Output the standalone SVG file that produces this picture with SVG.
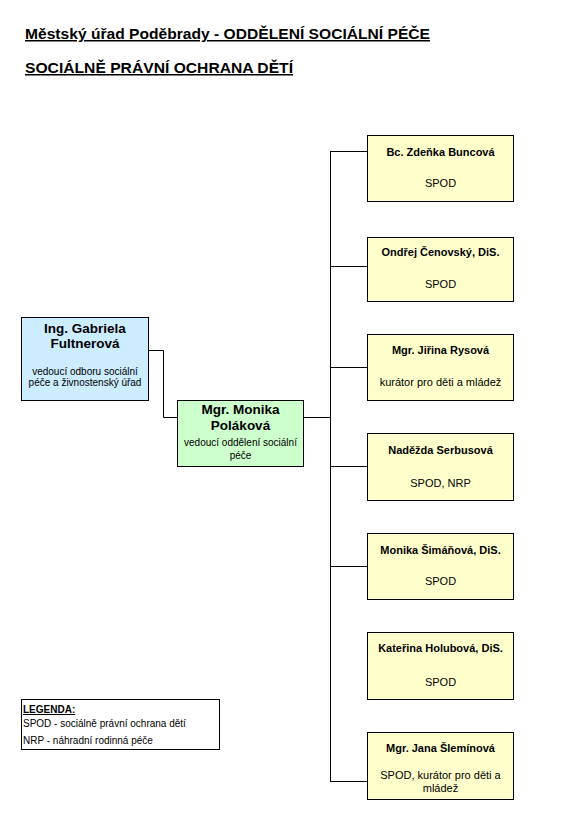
<svg xmlns="http://www.w3.org/2000/svg" width="564" height="832" viewBox="0 0 564 832">
<style>
  text { font-family: "Liberation Sans", Arial, sans-serif; fill: #000; }
  .title { font-size: 15px; font-weight: bold; text-decoration: underline; }
  .nm { font-size: 11px; font-weight: bold; text-anchor: middle; }
  .rl { font-size: 11px; text-anchor: middle; }
  .big { font-size: 13.5px; font-weight: bold; text-anchor: middle; }
  .sm { font-size: 10px; text-anchor: middle; }
  .lg { font-size: 10px; }
  .box { stroke: #000; stroke-width: 1; }
  .yel { fill: #FFFFCC; }
  .blu { fill: #CCECFF; }
  .grn { fill: #CCFFCC; }
  .conn { fill: none; stroke: #000; stroke-width: 1; }
</style>
<rect width="564" height="832" fill="#fff"/>
<g id="titles">
  <text class="title" x="25" y="39" textLength="405" lengthAdjust="spacingAndGlyphs">Městský úřad Poděbrady - ODDĚLENÍ SOCIÁLNÍ PÉČE</text>
  <text class="title" x="25" y="73" textLength="268" lengthAdjust="spacingAndGlyphs">SOCIÁLNĚ PRÁVNÍ OCHRANA DĚTÍ</text>
</g>
<g id="connectors">
  <polyline class="conn" points="148.5,350.5 163.5,350.5 163.5,417.5 177.5,417.5"/>
  <line class="conn" x1="304" y1="417.5" x2="330.5" y2="417.5"/>
  <line class="conn" x1="330.5" y1="151.5" x2="330.5" y2="781.5"/>
  <line class="conn" x1="330" y1="151.5" x2="368" y2="151.5"/>
  <line class="conn" x1="330" y1="266.5" x2="368" y2="266.5"/>
  <line class="conn" x1="330" y1="367.5" x2="368" y2="367.5"/>
  <line class="conn" x1="330" y1="466.5" x2="368" y2="466.5"/>
  <line class="conn" x1="330" y1="566.5" x2="368" y2="566.5"/>
  <line class="conn" x1="330" y1="781.5" x2="368" y2="781.5"/>
</g>
<g id="n-fultnerova">
  <rect class="box blu" x="21.5" y="317.5" width="127" height="83"/>
  <text class="big" x="85" y="333">Ing. Gabriela</text>
  <text class="big" x="85" y="348">Fultnerová</text>
  <text class="sm" x="85" y="375">vedoucí odboru sociální</text>
  <text class="sm" x="85" y="386">péče a živnostenský úřad</text>
</g>
<g id="n-polakova">
  <rect class="box grn" x="177.5" y="400.5" width="126" height="66"/>
  <text class="big" x="240.5" y="414">Mgr. Monika</text>
  <text class="big" x="240.5" y="430">Poláková</text>
  <text class="sm" x="240.5" y="446">vedoucí oddělení sociální</text>
  <text class="sm" x="240.5" y="459">péče</text>
</g>
<g id="n-buncova">
  <rect class="box yel" x="367.5" y="135.5" width="146" height="66"/>
  <text class="nm" x="440.5" y="156">Bc. Zdeňka Buncová</text>
  <text class="rl" x="440.5" y="187">SPOD</text>
</g>
<g id="n-cenovsky">
  <rect class="box yel" x="367.5" y="237.5" width="146" height="64"/>
  <text class="nm" x="440.5" y="256">Ondřej Čenovský, DiS.</text>
  <text class="rl" x="440.5" y="288">SPOD</text>
</g>
<g id="n-rysova">
  <rect class="box yel" x="367.5" y="334.5" width="146" height="66"/>
  <text class="nm" x="440.5" y="354">Mgr. Jiřina Rysová</text>
  <text class="rl" x="440.5" y="386">kurátor pro děti a mládež</text>
</g>
<g id="n-serbusova">
  <rect class="box yel" x="367.5" y="433.5" width="146" height="67"/>
  <text class="nm" x="440.5" y="454">Naděžda Serbusová</text>
  <text class="rl" x="440.5" y="487">SPOD, NRP</text>
</g>
<g id="n-simanova">
  <rect class="box yel" x="367.5" y="533.5" width="146" height="66"/>
  <text class="nm" x="440.5" y="554">Monika Šimáňová, DiS.</text>
  <text class="rl" x="440.5" y="585">SPOD</text>
</g>
<g id="n-holubova">
  <rect class="box yel" x="367.5" y="632.5" width="146" height="67"/>
  <text class="nm" x="440.5" y="652">Kateřina Holubová, DiS.</text>
  <text class="rl" x="440.5" y="686">SPOD</text>
</g>
<g id="n-sleminova">
  <rect class="box yel" x="367.5" y="732.5" width="146" height="67"/>
  <text class="nm" x="440.5" y="752">Mgr. Jana Šlemínová</text>
  <text class="rl" x="440.5" y="779">SPOD, kurátor pro děti a</text>
  <text class="rl" x="440.5" y="792">mládež</text>
</g>
<g id="legend">
  <rect x="21.5" y="699.5" width="198" height="50" fill="#fff" stroke="#000" stroke-width="1"/>
  <text class="lg" x="23" y="713" font-weight="bold" text-decoration="underline">LEGENDA:</text>
  <text class="lg" x="23" y="727">SPOD - sociálně právní ochrana dětí</text>
  <text class="lg" x="23" y="744">NRP - náhradní rodinná péče</text>
</g>
</svg>
